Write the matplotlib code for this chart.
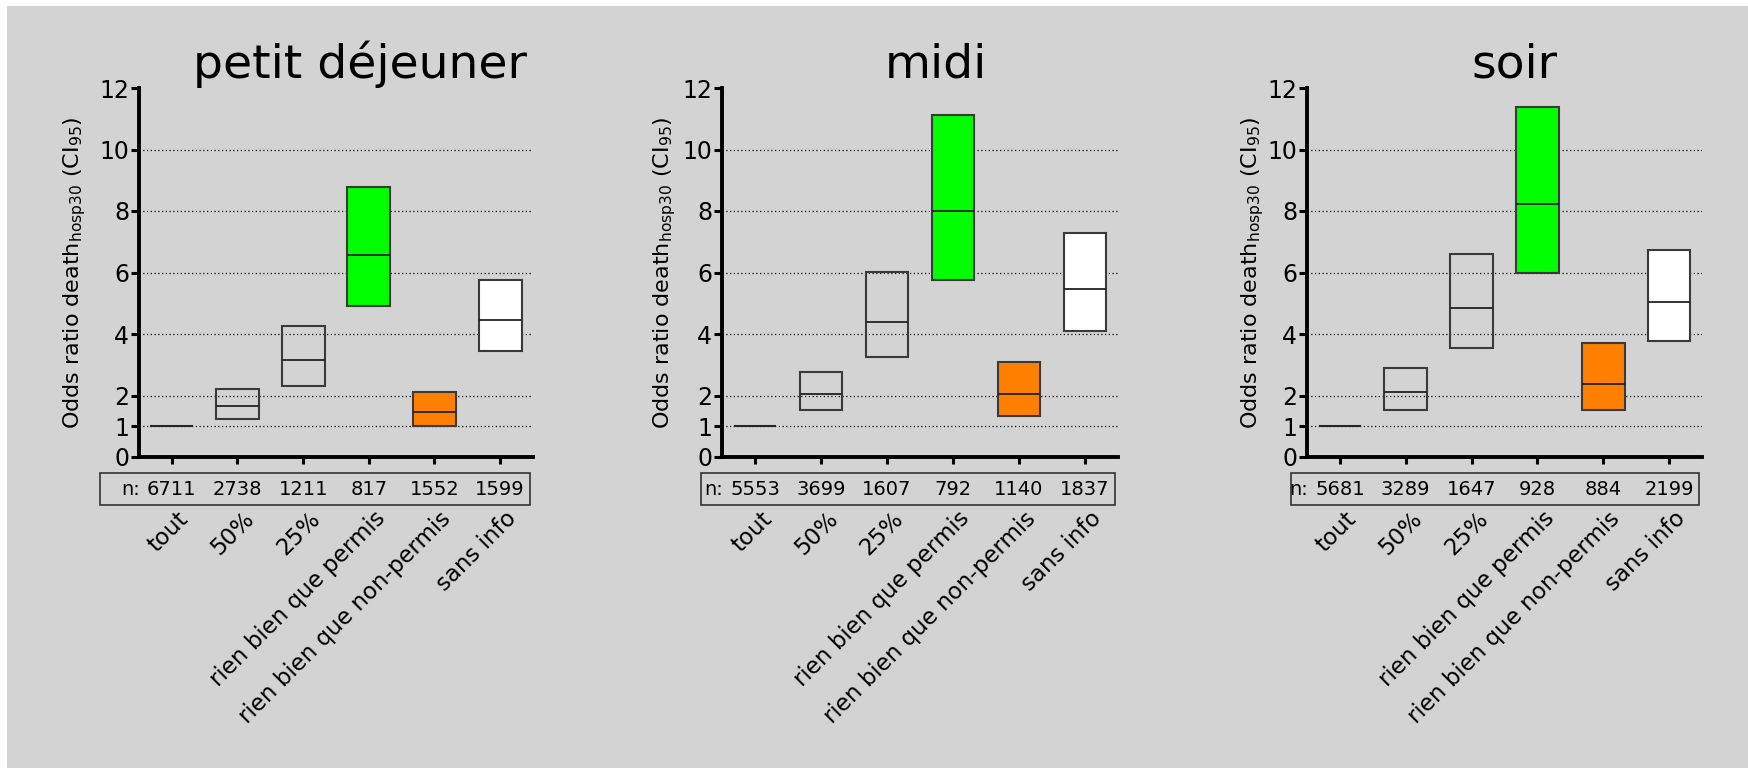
import numpy as np
import matplotlib
matplotlib.use("Agg")
import matplotlib.pyplot as plt
from matplotlib.patches import Rectangle
from matplotlib.transforms import ScaledTranslation

plt.rcParams["font.family"] = ["DejaVu Sans"]
plt.rcParams["mathtext.fontset"] = "dejavusans"

categories = ["tout", "50%", "25%", "rien bien que permis", "rien bien que non-permis", "sans info"]
panels = ["petit déjeuner", "midi", "soir"]

# odds ratio (median) and 95% CI, per panel
median = [
    [1.0, 1.65, 3.14, 6.56, 1.47, 4.46],
    [1.0, 2.05, 4.40, 7.99, 2.05, 5.46],
    [1.0, 2.12, 4.85, 8.24, 2.38, 5.04],
]
ci_low = [
    [1.0, 1.24, 2.30, 4.91, 1.02, 3.44],
    [1.0, 1.52, 3.24, 5.75, 1.33, 4.09],
    [1.0, 1.54, 3.56, 5.99, 1.52, 3.76],
]
ci_high = [
    [1.0, 2.20, 4.26, 8.78, 2.10, 5.77],
    [1.0, 2.75, 6.02, 11.11, 3.09, 7.30],
    [1.0, 2.90, 6.60, 11.39, 3.71, 6.73],
]
counts = [
    [6711, 2738, 1211, 817, 1552, 1599],
    [5553, 3699, 1607, 792, 1140, 1837],
    [5681, 3289, 1647, 928, 884, 2199],
]
yticks = [0, 1, 2, 4, 6, 8, 10, 12]
gridlines = [1, 2, 4, 6, 8, 10]

box_colors = ["none", "none", "none", "#00ff00", "#ff8000", "#ffffff"]
bg = "#d3d3d3"

W, H = 1748, 768
fig = plt.figure(figsize=(W / 100, H / 100), dpi=100, facecolor="white")
fig.patches.append(Rectangle((7 / W, 0), 1, 1 - 6 / H, transform=fig.transFigure,
                             facecolor=bg, edgecolor="none", zorder=-10))

# layout (pixels of the reference)
ax_left = [139, 722, 1307]
ax_w = [394, 396, 395]
ax_top, ax_bot = 88, 457
title_x = [0.56, 0.54, 0.525]
ylab_x = [-0.13, -0.11, -0.105]
table_left = [-1.09, -0.82, -0.74]

x = np.arange(len(categories))
for i, name in enumerate(panels):
    ax = fig.add_axes([ax_left[i] / W, (H - ax_bot) / H, ax_w[i] / W, (ax_bot - ax_top) / H])
    ax.set_facecolor("none")
    for s in ["top", "right"]:
        ax.spines[s].set_visible(False)
    for s in ["left", "bottom"]:
        ax.spines[s].set_linewidth(2.8)
    ax.set_xlim(-0.5, 5.5)
    ax.set_ylim(0, 12)

    for g in gridlines:
        ax.axhline(g, color="black", ls=(0, (1, 2)), lw=0.9, zorder=0)

    lo, me, hi = np.array(ci_low[i]), np.array(median[i]), np.array(ci_high[i])
    ax.bar(x, hi - lo, bottom=lo, width=0.65, color=box_colors,
           edgecolor="#3a3a3a", linewidth=1.5, zorder=2)
    ax.hlines(me, x - 0.325, x + 0.325, color="#222222", lw=1.3, zorder=3)

    ax.set_yticks(yticks)
    ax.tick_params(axis="y", length=6, width=2.2, pad=1, labelsize=17)
    ax.set_xticks(x)
    ax.set_xticklabels(categories, rotation=45, ha="right", va="top",
                       rotation_mode="anchor", fontsize=16.5)
    ax.tick_params(axis="x", length=5, width=2.2, pad=31)
    for lab in ax.get_xticklabels():
        lab.set_transform(lab.get_transform() + ScaledTranslation(0.05, 0, fig.dpi_scale_trans))

    ax.set_ylabel(r"Odds ratio death$_{\mathrm{hosp30}}$ (CI$_{95}$)", fontsize=16)
    ax.yaxis.set_label_coords(ylab_x[i], 0.5)
    ax.set_title(name, fontsize=34, x=title_x[i], pad=3)

    # n table under the axis
    ax.add_patch(Rectangle((table_left[i], -1.55), 5.45 - table_left[i], 1.02,
                           facecolor="none", edgecolor="#333333", lw=1.2, clip_on=False))
    for xi, n in zip(x, counts[i]):
        ax.text(xi, -1.05, str(n), ha="center", va="center", fontsize=14, clip_on=False)
    ax.annotate("n:", xy=(0, -1.05), xytext=(-23, 0), textcoords="offset points",
                ha="right", va="center", fontsize=14, annotation_clip=False)

fig.savefig("out.png", dpi=100, facecolor=fig.get_facecolor())
